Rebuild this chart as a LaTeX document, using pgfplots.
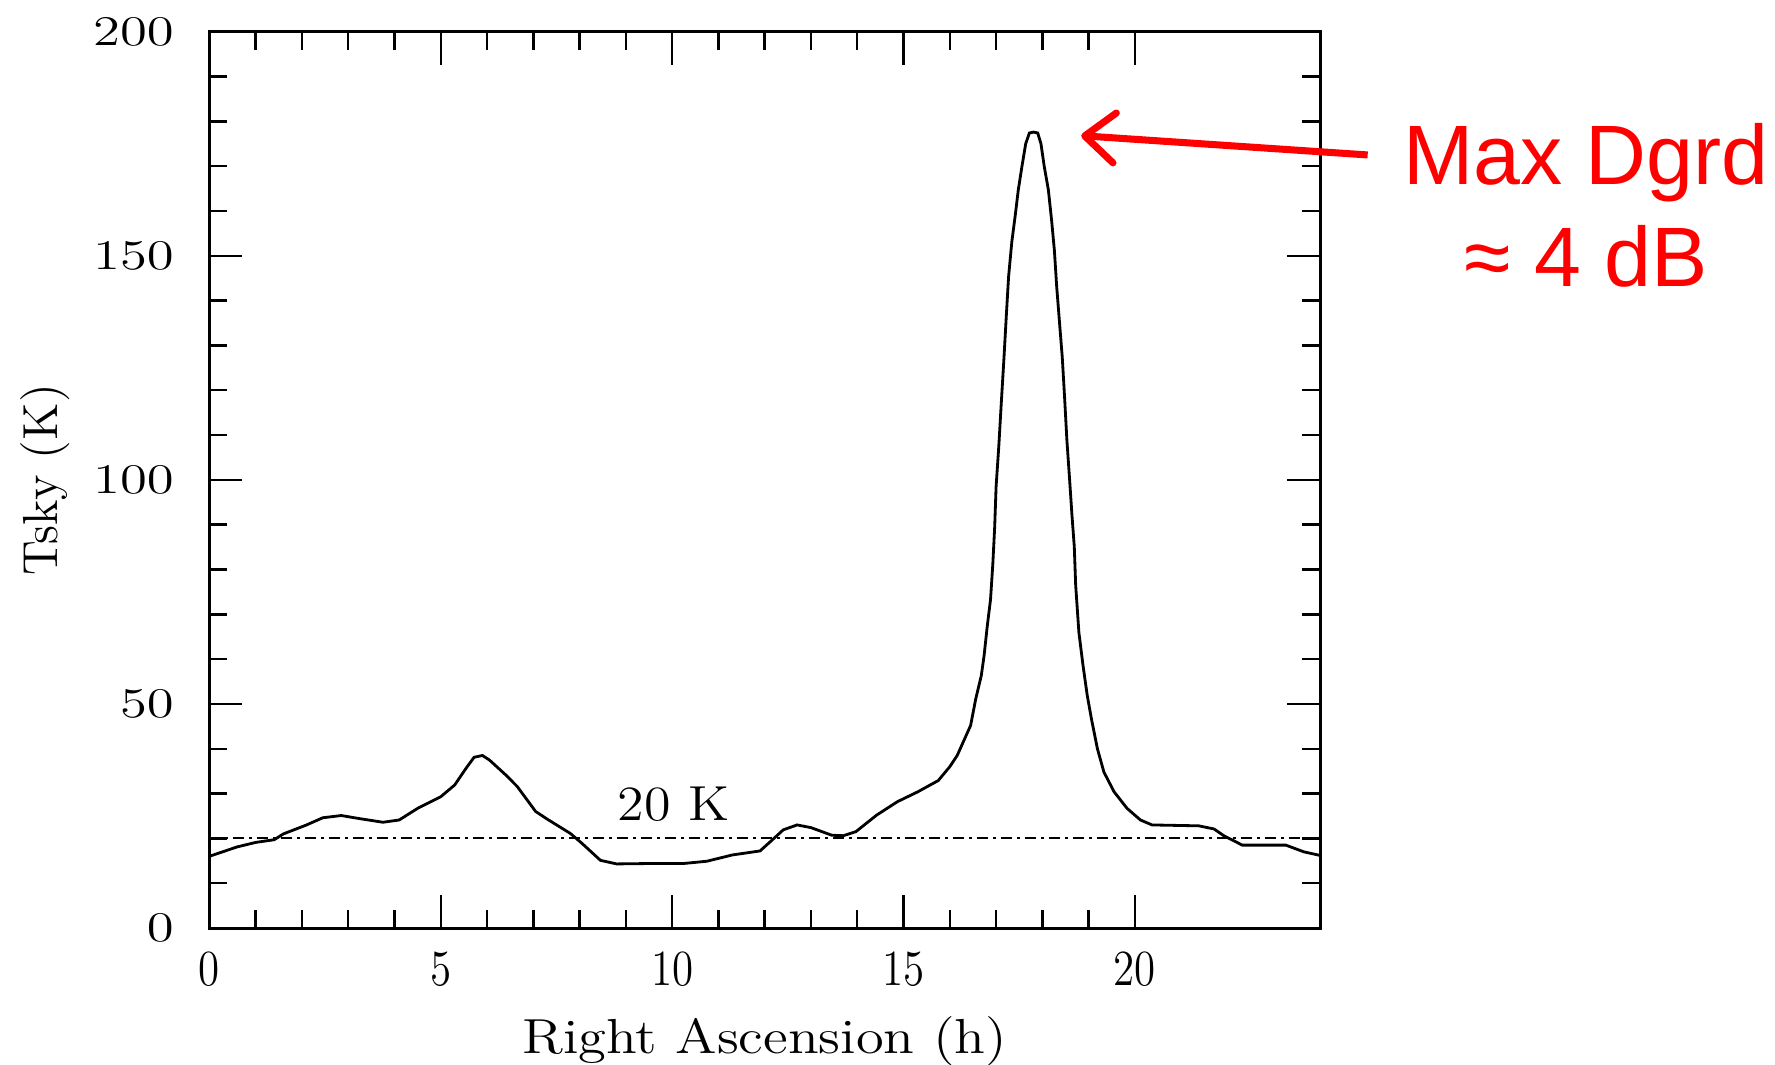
\documentclass[border=0pt]{standalone}
\usepackage{fontspec}
\usepackage{pgfplots}
\pgfplotsset{compat=1.18}
\usetikzlibrary{arrows.meta}
\newfontfamily\arial{Liberation Sans}

\begin{document}
\begin{tikzpicture}
\useasboundingbox (-20.94mm,-13.6mm) rectangle (156.56mm,92.8mm);
\begin{axis}[
    scale only axis,
    width=111.06mm, height=89.63mm,
    xmin=0, xmax=24, ymin=0, ymax=200,
    xtick={0,5,...,20}, ytick={0,50,...,200},
    minor x tick num=4, minor y tick num=4,
    tick align=inside,
    major tick length=3.3mm, minor tick length=1.8mm,
    axis line style={line width=0.85pt},
    every tick/.style={black, line width=0.7pt},
    xticklabel style={font=\fontsize{14}{16}\selectfont, xscale=0.85, yshift=-1.2mm},
    yticklabel style={font=\fontsize{12}{14}\selectfont, xscale=1.3, xshift=-1.5mm},
    label style={font=\fontsize{14}{16}\selectfont},
    xlabel={Right Ascension (h)},
    ylabel={Tsky (K)},
    xlabel style={at={(axis description cs:0.5,-0.1395)}, anchor=base, xscale=1.15},
    ylabel style={at={(axis description cs:-0.1477,0.5)}, anchor=center, rotate=0},
    clip=false,
]
% 20 K reference level
\addplot[black, line width=0.6pt, dash pattern=on 1.1mm off 0.5mm on 0.3mm off 0.5mm]
    coordinates {(0,20) (24,20)};

\addplot[black, line width=0.8pt] coordinates {
    (0,16.0) (0.6,18.1) (1.0,19.1) (1.4,19.7) (1.6,21.0) (2.1,23.0)
    (2.45,24.6) (2.85,25.1) (3.25,24.4) (3.75,23.6) (4.1,24.1) (4.5,26.7)
    (5.0,29.3) (5.3,31.9) (5.55,35.7) (5.72,38.1) (5.9,38.5) (6.05,37.5)
    (6.4,34.2) (6.65,31.6) (7.05,26.0) (7.3,24.3) (7.8,21.1) (8.05,18.9)
    (8.45,15.1) (8.8,14.3) (9.6,14.4) (10.25,14.4) (10.75,14.9) (11.3,16.3)
    (11.9,17.2) (12.2,20.0) (12.4,21.9) (12.7,23.0) (13.0,22.4) (13.45,20.7)
    (13.7,20.6) (13.97,21.5) (14.42,25.2) (14.87,28.2) (15.31,30.4)
    (15.75,32.9) (16.0,36.0) (16.16,38.5) (16.45,45.2) (16.56,51.1)
    (16.68,56.3) (16.74,60.7) (16.81,67.4) (16.88,73.3) (16.93,81.3)
    (16.97,89.5) (17.0,98.4) (17.06,107.7) (17.11,116.7) (17.17,127.1)
    (17.22,136.4) (17.27,145.3) (17.34,153.1) (17.42,159.5) (17.48,164.7)
    (17.56,170.0) (17.64,175.0) (17.72,177.4) (17.81,177.6) (17.9,177.4)
    (17.97,175.0) (18.04,170.0) (18.13,164.7) (18.2,157.9) (18.26,151.2)
    (18.31,143.1) (18.37,135.2) (18.43,127.4) (18.48,118.5) (18.53,108.9)
    (18.59,99.9) (18.64,92.1) (18.69,85.1) (18.72,76.5) (18.79,65.9)
    (18.88,58.5) (18.97,51.9) (19.06,46.7) (19.19,40.0) (19.33,34.8)
    (19.55,30.4) (19.83,26.7) (20.12,24.1) (20.37,23.0) (21.38,22.8)
    (21.71,22.1) (21.92,20.6) (22.32,18.5) (23.26,18.5) (23.65,17.0)
    (24,16.2)
};

\node[anchor=base, font=\fontsize{14}{16}\selectfont, xscale=1.1] at (axis cs:10.03,24) {20 K};

\draw[red, line width=2pt, -{Straight Barb[length=3mm,width=5mm,round]}]
    (axis cs:25.03,172.5) -- (axis cs:18.84,176.8);
\node[red, anchor=base, font=\arial\fontsize{24}{28}\selectfont] at (axis cs:29.75,166) {Max Dgrd};
\node[red, anchor=base, font=\arial\fontsize{24}{28}\selectfont] at (axis cs:29.75,143.2) {≈ 4 dB};
\end{axis}
\end{tikzpicture}
\end{document}
